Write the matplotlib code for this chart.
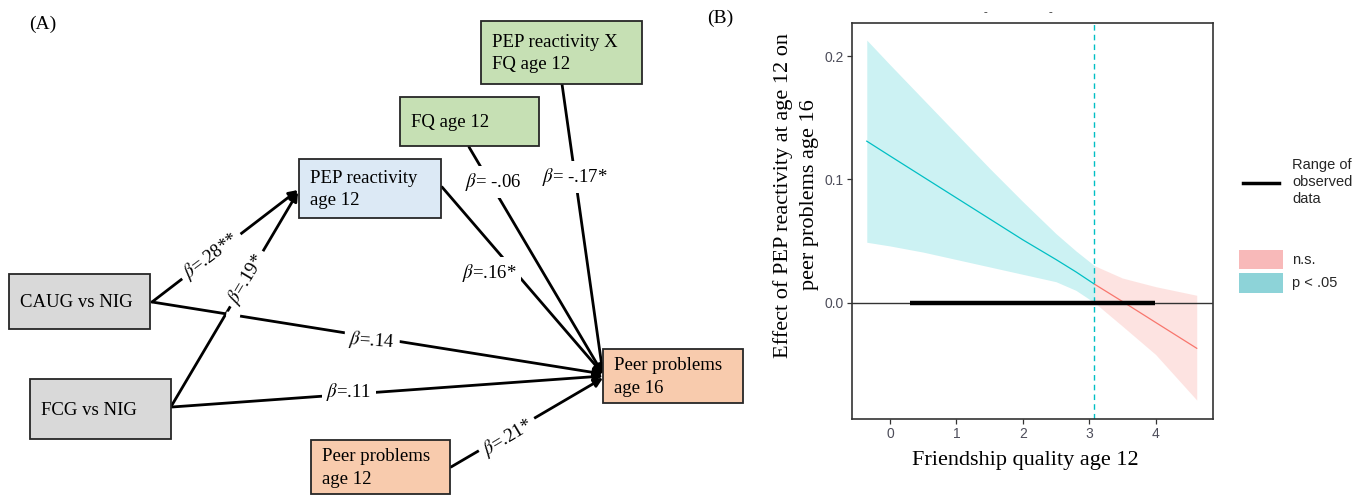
import matplotlib
matplotlib.use('Agg')
import matplotlib.pyplot as plt
from matplotlib.patches import Rectangle
from matplotlib.lines import Line2D
import numpy as np

plt.rcParams['font.family'] = ['Liberation Serif', 'DejaVu Serif']
plt.rcParams['mathtext.fontset'] = 'stix'

# ---- panel B data ----
fq = np.array([-0.35, 0.0, 0.5, 1.0, 1.5, 2.0, 2.5, 2.8, 3.08, 3.5, 4.0, 4.62])
slope_est = np.array([0.131, 0.119, 0.102, 0.085, 0.068, 0.051, 0.035, 0.025, 0.015, 0.001, -0.016, -0.037])
ci_upper = np.array([0.213, 0.193, 0.165, 0.137, 0.109, 0.082, 0.056, 0.042, 0.030, 0.020, 0.013, 0.006])
ci_lower = np.array([0.049, 0.046, 0.041, 0.035, 0.029, 0.023, 0.017, 0.010, 0.000, -0.019, -0.042, -0.079])
jn_point = 3.08
observed_range = [0.30, 3.99]
x_ticks = [0, 1, 2, 3, 4]
y_ticks = [0.0, 0.1, 0.2]

# ---- panel A: path model (boxes in pixel coords: x0, y0, x1, y1) ----
node_text = ['CAUG vs NIG', 'FCG vs NIG', 'PEP reactivity\nage 12', 'FQ age 12',
             'PEP reactivity X\nFQ age 12', 'Peer problems\nage 12', 'Peer problems\nage 16']
node_box = [(9, 274, 150, 329), (30, 379, 171, 439), (299, 159, 441, 218),
            (400, 97, 539, 146), (481, 21, 642, 84), (311, 440, 450, 494),
            (603, 349, 743, 403)]
node_color = ['#d9d9d9', '#d9d9d9', '#dce9f5', '#c6e0b4', '#c6e0b4', '#f8cbad', '#f8cbad']

# edges: start, end, beta label, label centre, label rotation
edge_start = [(152, 302), (172, 405), (152, 302), (172, 407), (442, 187), (469, 147), (562, 84), (451, 467)]
edge_end = [(298, 190), (298, 192), (603, 374), (603, 376), (603, 374), (603, 374), (603, 374), (603, 378)]
edge_label = [r'$\beta$=.28**', r'$\beta$=.19*', r'$\beta$=.14', r'$\beta$=.11',
              r'$\beta$=.16*', r'$\beta$= -.06', r'$\beta$= -.17*', r'$\beta$=.21*']
label_xy = [(211, 256), (247, 279), (372, 341), (349, 392), (489, 273), (493, 182), (575, 177), (508, 437)]
label_rot = [37, 59, -4, 0, 0, 0, 0, 31]

W, H = 1368, 498
fig = plt.figure(figsize=(W / 100, H / 100), dpi=100)

ax0 = fig.add_axes([0, 0, 1, 1])
ax0.set_xlim(0, W)
ax0.set_ylim(H, 0)
ax0.axis('off')

for (x0, y0, x1, y1), txt, col in zip(node_box, node_text, node_color):
    ax0.add_patch(Rectangle((x0, y0), x1 - x0, y1 - y0, facecolor=col,
                            edgecolor='#262626', lw=1.3, zorder=3))
    ax0.text(x0 + 11, (y0 + y1) / 2 + 1, txt, fontsize=13.5, ha='left', va='center',
             linespacing=1.4, zorder=4)

for s, e, lab, (lx, ly), rot in zip(edge_start, edge_end, edge_label, label_xy, label_rot):
    ax0.annotate('', xy=e, xytext=s,
                 arrowprops=dict(arrowstyle='-|>', lw=2.0, color='black',
                                 mutation_scale=13, shrinkA=0, shrinkB=0),
                 zorder=2)
    ax0.text(lx, ly, lab, fontsize=13.5, ha='center', va='center', rotation=rot,
             rotation_mode='anchor', zorder=5,
             bbox=dict(boxstyle='square,pad=0.25', fc='white', ec='none'))

# small break where CAUG -> peer problems passes the FCG -> PEP path
(sx, sy), (ex, ey) = edge_start[2], edge_end[2]
ax0.plot([sx + 0.17 * (ex - sx), sx + 0.19 * (ex - sx)],
         [sy + 0.17 * (ey - sy), sy + 0.19 * (ey - sy)], color='white', lw=3.5, zorder=2.5)

ax0.text(29, 24, '(A)', fontsize=14, ha='left', va='center')
ax0.text(707, 18, '(B)', fontsize=14, ha='left', va='center')

# ---- panel B ----
ax = fig.add_axes([851.7 / W, 1 - 419.3 / H, (1213 - 851.7) / W, (419.3 - 23.3) / H])
sig = fq <= jn_point
ns = fq >= jn_point
ax.fill_between(fq[sig], ci_lower[sig], ci_upper[sig], color='#00BFC4', alpha=0.2, lw=0)
ax.fill_between(fq[ns], ci_lower[ns], ci_upper[ns], color='#F8766D', alpha=0.2, lw=0)
ax.plot(fq[sig], slope_est[sig], color='#00BFC4', lw=0.9)
ax.plot(fq[ns], slope_est[ns], color='#F8766D', lw=0.9)
ax.axhline(0, color='#333333', lw=1.0)
ax.axvline(jn_point, color='#00BFC4', lw=1.0, dashes=(4, 3))
ax.plot(observed_range, [0, 0], color='black', lw=3.2, solid_capstyle='butt')

ax.set_xlim(-0.577, 4.865)
ax.set_ylim(-0.0946, 0.2266)
ax.set_xticks(x_ticks)
ax.set_yticks(y_ticks)
ax.set_xticklabels([str(t) for t in x_ticks])
ax.set_yticklabels(['%.1f' % t for t in y_ticks])
for lab in ax.get_xticklabels() + ax.get_yticklabels():
    lab.set_family('Liberation Sans')
ax.tick_params(length=3.5, width=0.9, color='#333333', labelcolor='#4d4d5a', labelsize=10, pad=2)
for sp in ax.spines.values():
    sp.set_color('#333333')
    sp.set_linewidth(1.2)

ax0.text(1025, 460, 'Friendship quality age 12', fontsize=16, ha='center', va='center')
ax0.text(796, 195, 'Effect of PEP reactivity at age 12 on\npeer problems age 16', fontsize=16,
         ha='center', va='center', rotation=90, multialignment='center', linespacing=1.55)

# remnants of a cropped title
ax0.text(985, 13, '-', fontsize=8, ha='center', va='center', color='#333333')
ax0.text(1050, 13, '-', fontsize=8, ha='center', va='center', color='#333333')

# legends
ax0.add_line(Line2D([1243, 1279], [183, 183], color='black', lw=2.5))
ax0.text(1292, 182, 'Range of\nobserved\ndata', fontsize=10.5, family='Liberation Sans',
         ha='left', va='center', linespacing=1.3, color='#262626')
ax0.add_patch(Rectangle((1239, 250), 44, 19, facecolor='#f8b9b9', edgecolor='none'))
ax0.add_patch(Rectangle((1239, 273), 44, 20, facecolor='#8dd3d8', edgecolor='none'))
ax0.text(1292, 260, 'n.s.', fontsize=10.5, family='Liberation Sans', ha='left', va='center', color='#262626')
ax0.text(1292, 283, 'p < .05', fontsize=10.5, family='Liberation Sans', ha='left', va='center', color='#262626')

fig.savefig('out.png', dpi=100)
